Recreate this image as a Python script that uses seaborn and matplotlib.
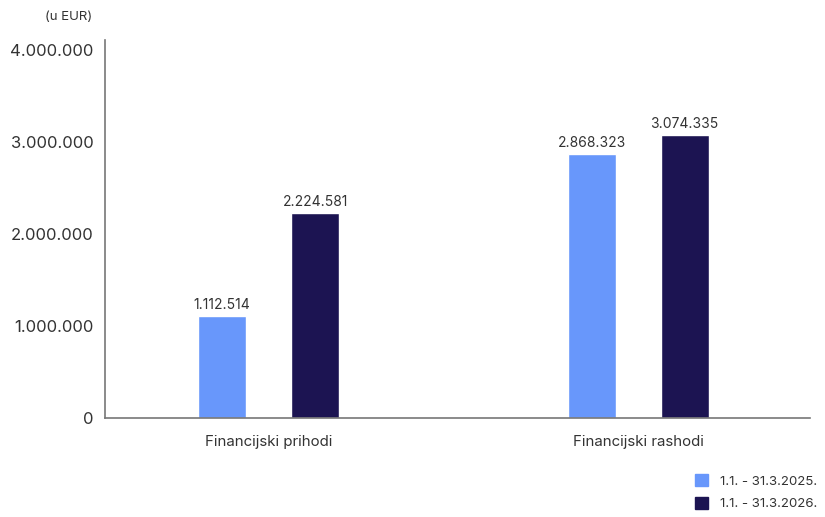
import seaborn as sns
import matplotlib.pyplot as plt
import pandas as pd

categories = ["Financijski prihodi", "Financijski rashodi"]
periods = ["1.1. - 31.3.2025.", "1.1. - 31.3.2026."]
values_2025 = [1112514, 2868323]
values_2026 = [2224581, 3074335]
yticks = [0, 1000000, 2000000, 3000000, 4000000]
colors = ["#6897fb", "#1c1452"]

df = pd.DataFrame({
    "kategorija": categories * 2,
    "period": [periods[0]] * 2 + [periods[1]] * 2,
    "iznos": values_2025 + values_2026,
})

def fmt(v):
    return f"{v:,.0f}".replace(",", ".")

sns.set_style("white")
plt.rcParams["font.family"] = ["Inter", "DejaVu Sans"]

fig = plt.figure(figsize=(8.25, 5.17), dpi=100)
ax = fig.add_axes([0.127, 0.1915, 0.855, 0.731])

sns.barplot(data=df, x="kategorija", y="iznos", hue="period", palette=colors,
            width=0.504, gap=0.484, ax=ax, legend=False, saturation=1)

for cont in ax.containers:
    ax.bar_label(cont, labels=[fmt(v) for v in cont.datavalues], padding=3,
                 fontsize=10, color="#333333")

ax.set_xlim(-0.444, 1.466)
ax.set_ylim(0, 4110000)
ax.set_yticks(yticks)
ax.set_yticklabels([fmt(v) for v in yticks], fontsize=12, color="#333333")
ax.tick_params(axis="x", labelsize=10.8, colors="#333333", length=0, pad=12)
ax.tick_params(axis="y", length=0, pad=8)
ax.set_xlabel("")
ax.set_ylabel("")
for s in ["top", "right"]:
    ax.spines[s].set_visible(False)
for s in ["left", "bottom"]:
    ax.spines[s].set_color("#777777")
    ax.spines[s].set_linewidth(1.2)

fig.text(0.055, 0.967, "(u EUR)", fontsize=9.5, color="#333333", va="center")

handles = [plt.Rectangle((0, 0), 1, 1, color=c) for c in colors]
fig.legend(handles, periods, loc="lower right", bbox_to_anchor=(1.005, -0.01),
           frameon=False, fontsize=9.5, handlelength=1.0, handleheight=1.0,
           handletextpad=0.9, labelspacing=0.7, labelcolor="#333333")

fig.savefig("out.png", dpi=100)
